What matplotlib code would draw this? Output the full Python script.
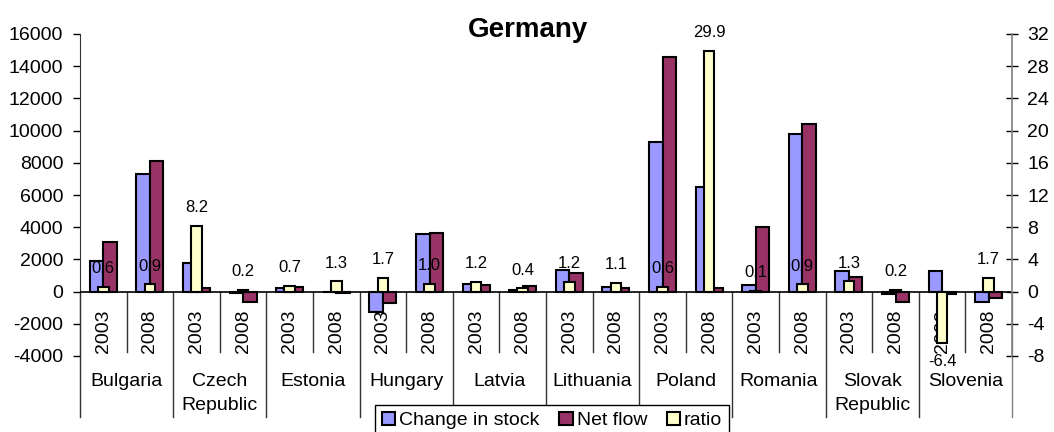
import numpy as np
import matplotlib
matplotlib.use("Agg")
import matplotlib.pyplot as plt
from matplotlib import transforms

plt.rcParams['font.family'] = ['Liberation Sans', 'DejaVu Sans']
plt.rcParams['axes.unicode_minus'] = False

countries = ["Bulgaria", "Czech\nRepublic", "Estonia", "Hungary", "Latvia",
             "Lithuania", "Poland", "Romania", "Slovak\nRepublic", "Slovenia"]
years = ["2003", "2008"]

change_in_stock = [1900, 7300, 1750, -60, 200, -50, -1250, 3550, 450, 100,
                   1350, 300, 9300, 6500, 400, 9800, 1250, -150, 1250, -650]
net_flow = [3100, 8100, 200, -650, 300, -60, -700, 3650, 400, 350,
            1150, 250, 14600, 250, 4000, 10400, 900, -650, -150, -400]
ratio = [0.6, 0.9, 8.2, 0.2, 0.7, 1.3, 1.7, 1.0, 1.2, 0.4,
         1.2, 1.1, 0.6, 29.9, 0.1, 0.9, 1.3, 0.2, -6.4, 1.7]

W, H = 1054, 432
fig = plt.figure(figsize=(W / 100, H / 100), dpi=100)


def fy(py):
    """Pixel row measured from the top -> figure fraction."""
    return 1 - py / H


ax = fig.add_axes([80 / W, fy(356), 932 / W, 322 / H])
ax2 = ax.twinx()

n = len(change_in_stock)
x = np.arange(n)
bw = 0.29
edge_lw = 1.5
b1 = ax.bar(x - bw / 2, change_in_stock, bw, color='#9999FF',
            edgecolor='black', linewidth=edge_lw, zorder=2)
b2 = ax.bar(x + bw / 2, net_flow, bw, color='#993366',
            edgecolor='black', linewidth=edge_lw, zorder=2)
b3 = ax2.bar(x, ratio, 0.23, color='#FFFFCC', edgecolor='black',
             linewidth=edge_lw, zorder=2)

ax.set_xlim(-0.5, n - 0.5)
ax.set_ylim(-4000, 16000)
ax2.set_ylim(-8, 32)
ax.set_yticks(np.arange(-4000, 16001, 2000))
ax2.set_yticks(np.arange(-8, 33, 4))
ax.set_xticks([])
ax2.set_xticks([])

for s in ['top', 'right', 'bottom']:
    ax.spines[s].set_visible(False)
for s in ['top', 'left', 'bottom']:
    ax2.spines[s].set_visible(False)
ax.spines['left'].set_color('#333333')
ax2.spines['right'].set_color('#808080')
ax2.spines['right'].set_linewidth(1.2)

ax.tick_params(axis='y', direction='out', length=5, width=1, pad=7,
               labelsize=14, color='black')
ax2.tick_params(axis='y', direction='inout', length=8, width=1, pad=7,
                labelsize=14, color='black')

ax.axhline(0, color='black', linewidth=1.2, zorder=3)

# category axis: separators, year labels, country labels
trans = transforms.blended_transform_factory(ax.transData, fig.transFigure)
for i in range(n + 1):
    xb = i - 0.5
    if i % 2 == 0:
        y_end = fy(417)
    else:
        y_end = fy(352)
    col = '#808080' if i == n else '#333333'
    ax.plot([xb, xb], [fy(292), y_end], transform=trans, color=col,
            linewidth=1.0, clip_on=False, zorder=1)

for i in range(n):
    ax.text(i, fy(331), years[i % 2], transform=trans, rotation=90,
            ha='center', va='center', fontsize=14)

for k, name in enumerate(countries):
    for j, line in enumerate(name.split("\n")):
        ax.text(2 * k + 0.5, fy(386 + 24 * j), line, transform=trans,
                ha='center', va='baseline', fontsize=14)

# ratio value labels
for i, v in enumerate(ratio):
    off = 13 if v >= 0 else -13
    ax2.annotate(f'{v:.1f}', xy=(i, v), xytext=(0, off),
                 textcoords='offset points', ha='center', va='center',
                 fontsize=12, zorder=5)

fig.text(528 / W, fy(37), "Germany", ha='center', va='baseline',
         fontsize=20, fontweight='bold')

leg = fig.legend([b1, b2, b3], ["Change in stock", "Net flow", "ratio"],
                 loc='upper left', bbox_to_anchor=(375 / W, fy(405)),
                 ncol=3, frameon=True, fancybox=False, edgecolor='black',
                 framealpha=1, borderaxespad=0, fontsize=14,
                 handlelength=0.7, handleheight=0.7, handletextpad=0.2,
                 columnspacing=1.0, borderpad=0.35)
leg.get_frame().set_linewidth(1.0)

fig.savefig("out.png", dpi=100)
